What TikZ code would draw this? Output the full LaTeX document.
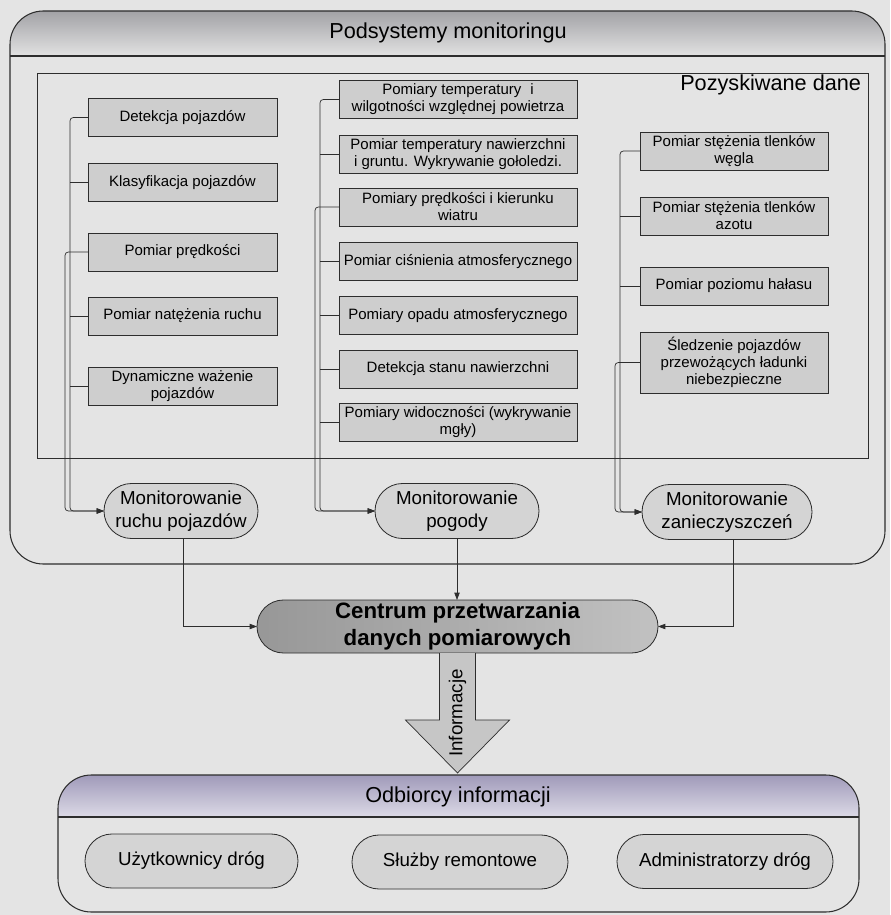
\documentclass[tikz,border=0pt]{standalone}
\usepackage{fontspec}
\setmainfont{Liberation Sans}
\usetikzlibrary{arrows.meta,calc}

\definecolor{paper}{RGB}{228,228,228}
\definecolor{ink}{RGB}{45,45,45}
\definecolor{boxfill}{RGB}{206,206,206}
\definecolor{pillfill}{RGB}{212,212,212}
\definecolor{hubfill}{RGB}{178,178,178}
\definecolor{headtop}{RGB}{162,162,166}
\definecolor{headbot}{RGB}{226,226,226}
\definecolor{recvtop}{RGB}{160,154,186}
\definecolor{recvbot}{RGB}{220,218,230}
\definecolor{arrowfill}{RGB}{198,198,198}

\begin{document}
\begin{tikzpicture}[x=0.3mm,y=-0.3mm,
  every node/.style={inner sep=0pt,outer sep=0pt},
  databox/.style={draw=ink,line width=0.7pt,fill=boxfill,align=center,
    font=\fontsize{12.8}{14.5}\selectfont,minimum height=11.4mm},
  leftbox/.style={databox,minimum width=56.7mm},
  midbox/.style={databox,minimum width=71.4mm},
  rightbox/.style={databox,minimum width=56.4mm},
  pill/.style={draw=ink,line width=0.7pt,fill=pillfill,align=center,
    rounded corners=8.25mm,minimum height=16.5mm,
    font=\fontsize{16}{20}\selectfont},
  hub/.style={draw=ink,line width=0.7pt,left color=hubfill!85!black,right color=hubfill!80!white,align=center,
    rounded corners=7.95mm,minimum height=15.9mm,minimum width=120.3mm,
    font=\fontsize{19}{23}\selectfont\bfseries},
  recv/.style={draw=ink,line width=0.7pt,fill=pillfill,align=center,
    rounded corners=8.1mm,minimum height=16.2mm,
    font=\fontsize{16}{19}\selectfont},
  title/.style={font=\fontsize{18.5}{22}\selectfont},
  conn/.style={draw=ink,line width=0.6pt},
  tip/.style={-{Triangle[length=2.2mm,width=1.6mm]}},
]
\useasboundingbox (0,0) rectangle (890,915);
\fill[paper] (0,0) rectangle (890,915);

% ---------- monitoring subsystems frame ----------
\begin{scope}
  \clip[rounded corners=10mm] (10,11) rectangle (885,564);
  \shade[top color=headtop,bottom color=headbot] (10,11) rectangle (885,56);
\end{scope}
\draw[ink,line width=0.9pt] (10,56) -- (885,56);
\draw[ink,line width=0.9pt,rounded corners=10mm] (10,11) rectangle (885,564);
\node[title] (subsys) at (448,33) {Podsystemy monitoringu};

% acquired data frame
\draw[ink,line width=0.7pt] (37,73) rectangle (868,458);
\node[title,anchor=east] (acq) at (861,85) {Pozyskiwane dane};

% ---------- traffic measurements ----------
\node[leftbox] (det)  at (182.5,117.5) {Detekcja pojazdów};
\node[leftbox] (klas) at (182.5,182.5) {Klasyfikacja pojazdów};
\node[leftbox] (pred) at (182.5,252)   {Pomiar prędkości};
\node[leftbox] (nat)  at (182.5,316)   {Pomiar natężenia ruchu};
\node[leftbox] (waz)  at (182.5,386)   {Dynamiczne ważenie\\pojazdów};

% ---------- weather measurements ----------
\node[midbox] (tw)    at (458,99.5)  {Pomiary temperatury\hspace{0.6em}i\\wilgotności względnej powietrza};
\node[midbox] (tn)    at (458,154)   {Pomiar temperatury nawierzchni\\i gruntu. Wykrywanie gołoledzi.};
\node[midbox] (wiatr) at (458,207)   {Pomiary prędkości i kierunku\\wiatru};
\node[midbox] (cisn)  at (458,261.5) {Pomiar ciśnienia atmosferycznego};
\node[midbox] (opad)  at (458,315.5) {Pomiary opadu atmosferycznego};
\node[midbox] (stan)  at (458,369)   {Detekcja stanu nawierzchni};
\node[midbox] (widz)  at (458,422.5) {Pomiary widoczności (wykrywanie\\mgły)};

% ---------- pollution measurements ----------
\node[rightbox] (co)   at (734,151)   {Pomiar stężenia tlenków\\węgla};
\node[rightbox] (no)   at (734,216)   {Pomiar stężenia tlenków\\azotu};
\node[rightbox] (hal)  at (734,286)   {Pomiar poziomu hałasu};
\node[rightbox,minimum height=18.3mm] (sled) at (734,362.5)
  {Śledzenie pojazdów\\przewożących ładunki\\niebezpieczne};

% ---------- monitoring subsystems ----------
\node[pill,minimum width=46.2mm] (mruch)  at (181,511) {Monitorowanie\\ruchu pojazdów};
\node[pill,minimum width=49.2mm] (mpog)   at (457,511) {Monitorowanie\\pogody};
\node[pill,minimum width=51mm]   (mzan)   at (727,512) {Monitorowanie\\zanieczyszczeń};

% processing centre
\node[hub] (hub) at (457.5,626.5) {Centrum przetwarzania\\danych pomiarowych};

% bus lines
\coordinate (LA) at (70,0);  \coordinate (LB) at (65,0);
\coordinate (MA) at (320,0); \coordinate (MB) at (315,0);
\coordinate (RA) at (620,0); \coordinate (RB) at (615,0);

% traffic bus
\draw[conn,tip,rounded corners=1mm] (det.west) -- (det.west -| LA) -- (LA |- mruch.west) -- (mruch.west);
\draw[conn,tip,rounded corners=1mm] (pred.west) -- (pred.west -| LB) -- (LB |- mruch.west) -- (mruch.west);
\foreach \b in {klas,nat,waz} \draw[conn] (\b.west) -- (\b.west -| LA);

% weather bus
\draw[conn,tip,rounded corners=1mm] (tw.west) -- (tw.west -| MA) -- (MA |- mpog.west) -- (mpog.west);
\draw[conn,tip,rounded corners=1mm] (wiatr.west) -- (wiatr.west -| MB) -- (MB |- mpog.west) -- (mpog.west);
\foreach \b in {tn,cisn,opad,stan,widz} \draw[conn] (\b.west) -- (\b.west -| MA);

% pollution bus
\draw[conn,tip,rounded corners=1mm] (co.west) -- (co.west -| RA) -- (RA |- mzan.west) -- (mzan.west);
\draw[conn,tip,rounded corners=1mm] (sled.west) -- (sled.west -| RB) -- (RB |- mzan.west) -- (mzan.west);
\foreach \b in {no,hal} \draw[conn] (\b.west) -- (\b.west -| RA);

% subsystems to processing centre
\draw[conn,tip] ([xshift=0.6mm]mruch.south) |- (hub.west);
\draw[conn,tip] (mpog.south) -- (mpog.south |- hub.north);
\draw[conn,tip] ([xshift=1.8mm]mzan.south) |- (hub.east);

% information flow arrow
\draw[ink,line width=0.6pt,fill=arrowfill]
  ($(hub.south)+(-18,0)$) -- ($(hub.south)+(-18,67)$) -- ($(hub.south)+(-52,67)$)
  -- ($(hub.south)+(0,120)$) coordinate (arrowtip)
  -- ($(hub.south)+(52,67)$) -- ($(hub.south)+(18,67)$) -- ($(hub.south)+(18,0)$);
\node[rotate=90,font=\fontsize{16}{19}\selectfont] (info) at ($(hub.south)+(0,60)$) {Informacje};

% ---------- information recipients ----------
\begin{scope}
  \clip[rounded corners=10mm] (58,775) rectangle (859,912);
  \shade[top color=recvtop,bottom color=recvbot] (58,775) rectangle (859,817);
\end{scope}
\draw[ink,line width=0.9pt] (58,817) -- (859,817);
\draw[ink,line width=0.9pt,rounded corners=10mm] (58,775) rectangle (859,912);
\node[title] (recvtitle) at (458,797) {Odbiorcy informacji};

\node[recv,minimum width=63.9mm] (users) at (191.5,861) {Użytkownicy dróg};
\node[recv,minimum width=64.8mm] (repair) at (460,862) {Służby remontowe};
\node[recv,minimum width=64.8mm] (admin) at (725,861.5) {Administratorzy dróg};
\end{tikzpicture}
\end{document}
